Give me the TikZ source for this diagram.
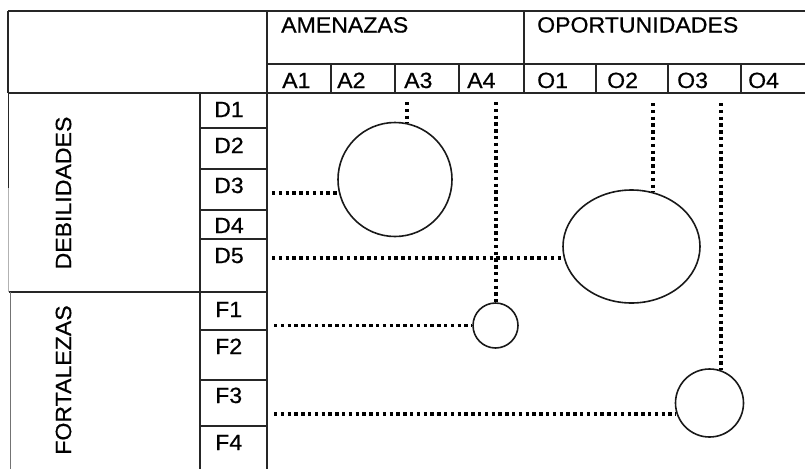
\documentclass[tikz,border=0pt]{standalone}
\usepackage{fontspec}
\setmainfont{Liberation Sans}[FakeStretch=1.05,FakeBold=0.6]
\usetikzlibrary{shapes.geometric}
\begin{document}
\begin{tikzpicture}[x=1pt,y=-1pt,
  grid/.style={draw=black!85,line width=1.1pt},
  lbl/.style={anchor=base west,inner sep=0pt,font=\fontsize{22}{26}\selectfont},
  side/.style={rotate=90,inner sep=0pt,font=\fontsize{22}{26}\selectfont},
  circ/.style={draw=black!90,circle,line width=1.6pt,inner sep=0pt},
  ell/.style={draw=black!90,ellipse,line width=1.6pt,inner sep=0pt},
  dots/.style={draw=black,line width=3.3pt,dash pattern=on 3.3pt off 3.5pt}]
\useasboundingbox (0,0) rectangle (805,469);
% table frame
\draw[grid] (8,11) -- (805,11);
\draw[grid] (8,11) -- (8,93);
\draw[grid] (8,93) -- (805,93);
\draw[grid] (267,11) -- (267,469);
\draw[grid] (524,11) -- (524,93);
\draw[grid] (267,64) -- (805,64);
\foreach \x in {331,395,459,596,668,741} \draw[grid] (\x,64) -- (\x,93);
\draw[grid] (200,93) -- (200,469);
\foreach \y in {128,169,210,239,330,380,426} \draw[grid] (200,\y) -- (267,\y);
\draw[grid] (9,292) -- (267,292);
\draw[draw=black!85,line width=1.8pt] (8.5,93) -- (8.5,188);
\draw[draw=black!30,line width=1pt] (8.5,188) -- (8.5,292);
\draw[draw=black!55,line width=1pt] (10.5,292) -- (10.5,469);
% header labels
\node[lbl] (am) at (281,32.5) {AMENAZAS};
\node[lbl] (op) at (537,32.5) {OPORTUNIDADES};
\node[lbl] (a1) at (282,88) {A1};
\node[lbl] (a2) at (337,88) {A2};
\node[lbl] (a3) at (404,88) {A3};
\node[lbl] (a4) at (467,88) {A4};
\node[lbl] (o1) at (537,88) {O1};
\node[lbl] (o2) at (607,88) {O2};
\node[lbl] (o3) at (677,88) {O3};
\node[lbl] (o4) at (748,88) {O4};
% row labels
\node[lbl] (d1) at (214,117) {D1};
\node[lbl] (d2) at (214,153) {D2};
\node[lbl] (d3) at (214,193) {D3};
\node[lbl] (d4) at (214,233) {D4};
\node[lbl] (d5) at (214,263) {D5};
\node[lbl] (f1) at (215,317) {F1};
\node[lbl] (f2) at (215,354) {F2};
\node[lbl] (f3) at (215,403) {F3};
\node[lbl] (f4) at (215,450) {F4};
\node[side] (deb) at (63.5,193) {DEBILIDADES};
\node[side] (fort) at (63.5,380) {FORTALEZAS};
% bubbles
\node[circ,minimum size=114pt] (c1) at (395,179.5) {};
\node[ell,minimum width=137pt,minimum height=113pt] (e2) at (631.5,246.5) {};
\node[circ,minimum size=45pt] (c3) at (495.5,325.5) {};
\node[circ,minimum size=68pt] (c4) at (709.5,403) {};
% connector ends
\coordinate (v1) at (407,102);
\coordinate (h1) at (272,193);
\coordinate (v2) at (653,103);
\coordinate (h2) at (272,258);
\coordinate (v3) at (496,102);
\coordinate (h3) at (274,325.5);
\coordinate (v4) at (721,103);
\coordinate (h4) at (274,414);
% connectors
\draw[dots] (v1) -- (v1 |- c1.77.8);
\draw[dots] (h1) -- (h1 -| c1.193.7);
\draw[dots] (v2) -- (v2 |- e2.68.1);
\draw[dots] (h2) -- (h2 -| e2.189.7);
\draw[dots] (v3) -- (v3 |- c3.north);
\draw[dots] (h3) -- (c3.west);
\draw[dots] (v4) -- (v4 |- c4.70.2);
\draw[dots] (h4) -- (h4 -| c4.198.9);
\end{tikzpicture}
\end{document}
